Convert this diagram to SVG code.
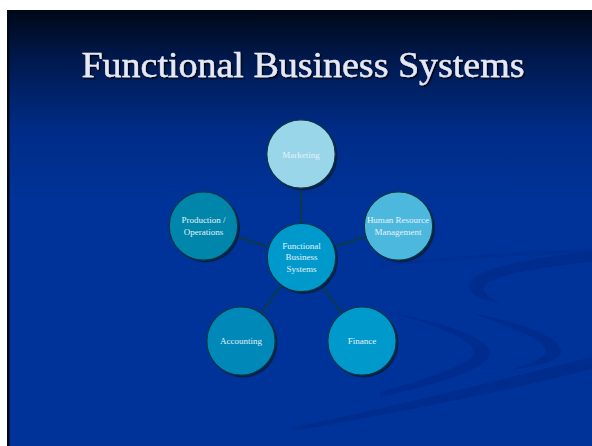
<svg xmlns="http://www.w3.org/2000/svg" width="592" height="446" viewBox="0 0 592 446">
<defs>
<linearGradient id="bg" x1="0" y1="0" x2="0" y2="1" gradientUnits="objectBoundingBox">
<stop offset="0" stop-color="#000818"/>
<stop offset="0.12" stop-color="#001a50"/>
<stop offset="0.28" stop-color="#002c88"/>
<stop offset="0.45" stop-color="#003399"/>
<stop offset="1" stop-color="#003399"/>
</linearGradient>
<filter id="ts" x="-5%" y="-20%" width="110%" height="140%">
<feDropShadow dx="1.5" dy="1.5" stdDeviation="0.6" flood-color="#000000" flood-opacity="0.8"/>
</filter>
</defs>
<style>
.title{font-family:"Liberation Serif",serif;font-size:35px;fill:#e6e8f6;stroke:#e6e8f6;stroke-width:0.4;}
.node circle.sh{fill:#0a1e3c;opacity:0.85;}
.node circle.c{stroke:#0b3646;stroke-width:1.2;}
.node text{font-family:"Liberation Serif",serif;font-size:9px;fill:#e4f2f8;text-anchor:middle;}
.conn line{stroke:#0d3a48;stroke-width:2;}
.sw{fill:#002c8e;}
</style>
<rect x="0" y="0" width="592" height="446" fill="#ffffff"/>
<rect x="7" y="10" width="585" height="436" fill="url(#bg)"/>
<rect x="7" y="10" width="2.5" height="436" fill="#000814"/>
<g id="swoosh">
<path class="sw" d="M592,251 C540,258 480,266 470,282 C466,294 480,300 500,303 C486,296 480,290 486,284 C500,273 550,266 592,262 Z"/>
<path class="sw" d="M468,312 C520,322 558,336 561,350 C563,360 540,366 510,370 C535,362 548,356 546,350 C542,338 508,326 468,312 Z"/>
<path class="sw" d="M385,311 C430,322 468,338 474,350 C478,362 430,378 380,392 L380,397 C440,384 492,368 490,352 C487,336 440,322 385,311 Z" opacity="0.85"/>
<path class="sw" d="M592,357 C500,380 400,405 290,428 L300,430 C410,410 510,390 592,369 Z"/>
<path class="sw" d="M380,264 C440,257 520,252 592,249 L592,252 C520,255 440,260 380,267 Z" opacity="0.6"/>
</g>
<text class="title" x="303" y="77" text-anchor="middle" textLength="443" lengthAdjust="spacingAndGlyphs" filter="url(#ts)">Functional Business Systems</text>
<g id="connectors" class="conn">
<line x1="301.5" y1="257.5" x2="301" y2="154"/>
<line x1="301.5" y1="257.5" x2="203.5" y2="226"/>
<line x1="301.5" y1="257.5" x2="398.5" y2="226"/>
<line x1="301.5" y1="257.5" x2="241" y2="341"/>
<line x1="301.5" y1="257.5" x2="362" y2="341"/>
</g>
<g id="marketing" class="node">
<circle class="sh" cx="303" cy="156" r="34.5"/>
<circle class="c" cx="301" cy="154" r="34.2" fill="#99d6ea"/>
<text x="301" y="158">Marketing</text>
</g>
<g id="production" class="node">
<circle class="sh" cx="205.5" cy="228" r="34.5"/>
<circle class="c" cx="203.5" cy="226" r="34.2" fill="#0086ab"/>
<text x="203.5" y="223">Production /</text>
<text x="203.5" y="235">Operations</text>
</g>
<g id="hr" class="node">
<circle class="sh" cx="400.5" cy="228" r="34.5"/>
<circle class="c" cx="398.5" cy="226" r="34.2" fill="#4db8dd"/>
<text x="398" y="223">Human Resource</text>
<text x="398" y="235">Management</text>
</g>
<g id="center" class="node">
<circle class="sh" cx="303.5" cy="259.5" r="34.5"/>
<circle class="c" cx="301.5" cy="257.5" r="34.2" fill="#0099cc"/>
<text x="301.5" y="248.5">Functional</text>
<text x="301.5" y="260">Business</text>
<text x="301.5" y="271.5">Systems</text>
</g>
<g id="accounting" class="node">
<circle class="sh" cx="243" cy="343" r="34.5"/>
<circle class="c" cx="241" cy="341" r="34.2" fill="#0088b8"/>
<text x="241" y="344">Accounting</text>
</g>
<g id="finance" class="node">
<circle class="sh" cx="364" cy="343" r="34.5"/>
<circle class="c" cx="362" cy="341" r="34.2" fill="#0099cc"/>
<text x="362" y="344">Finance</text>
</g>
</svg>
